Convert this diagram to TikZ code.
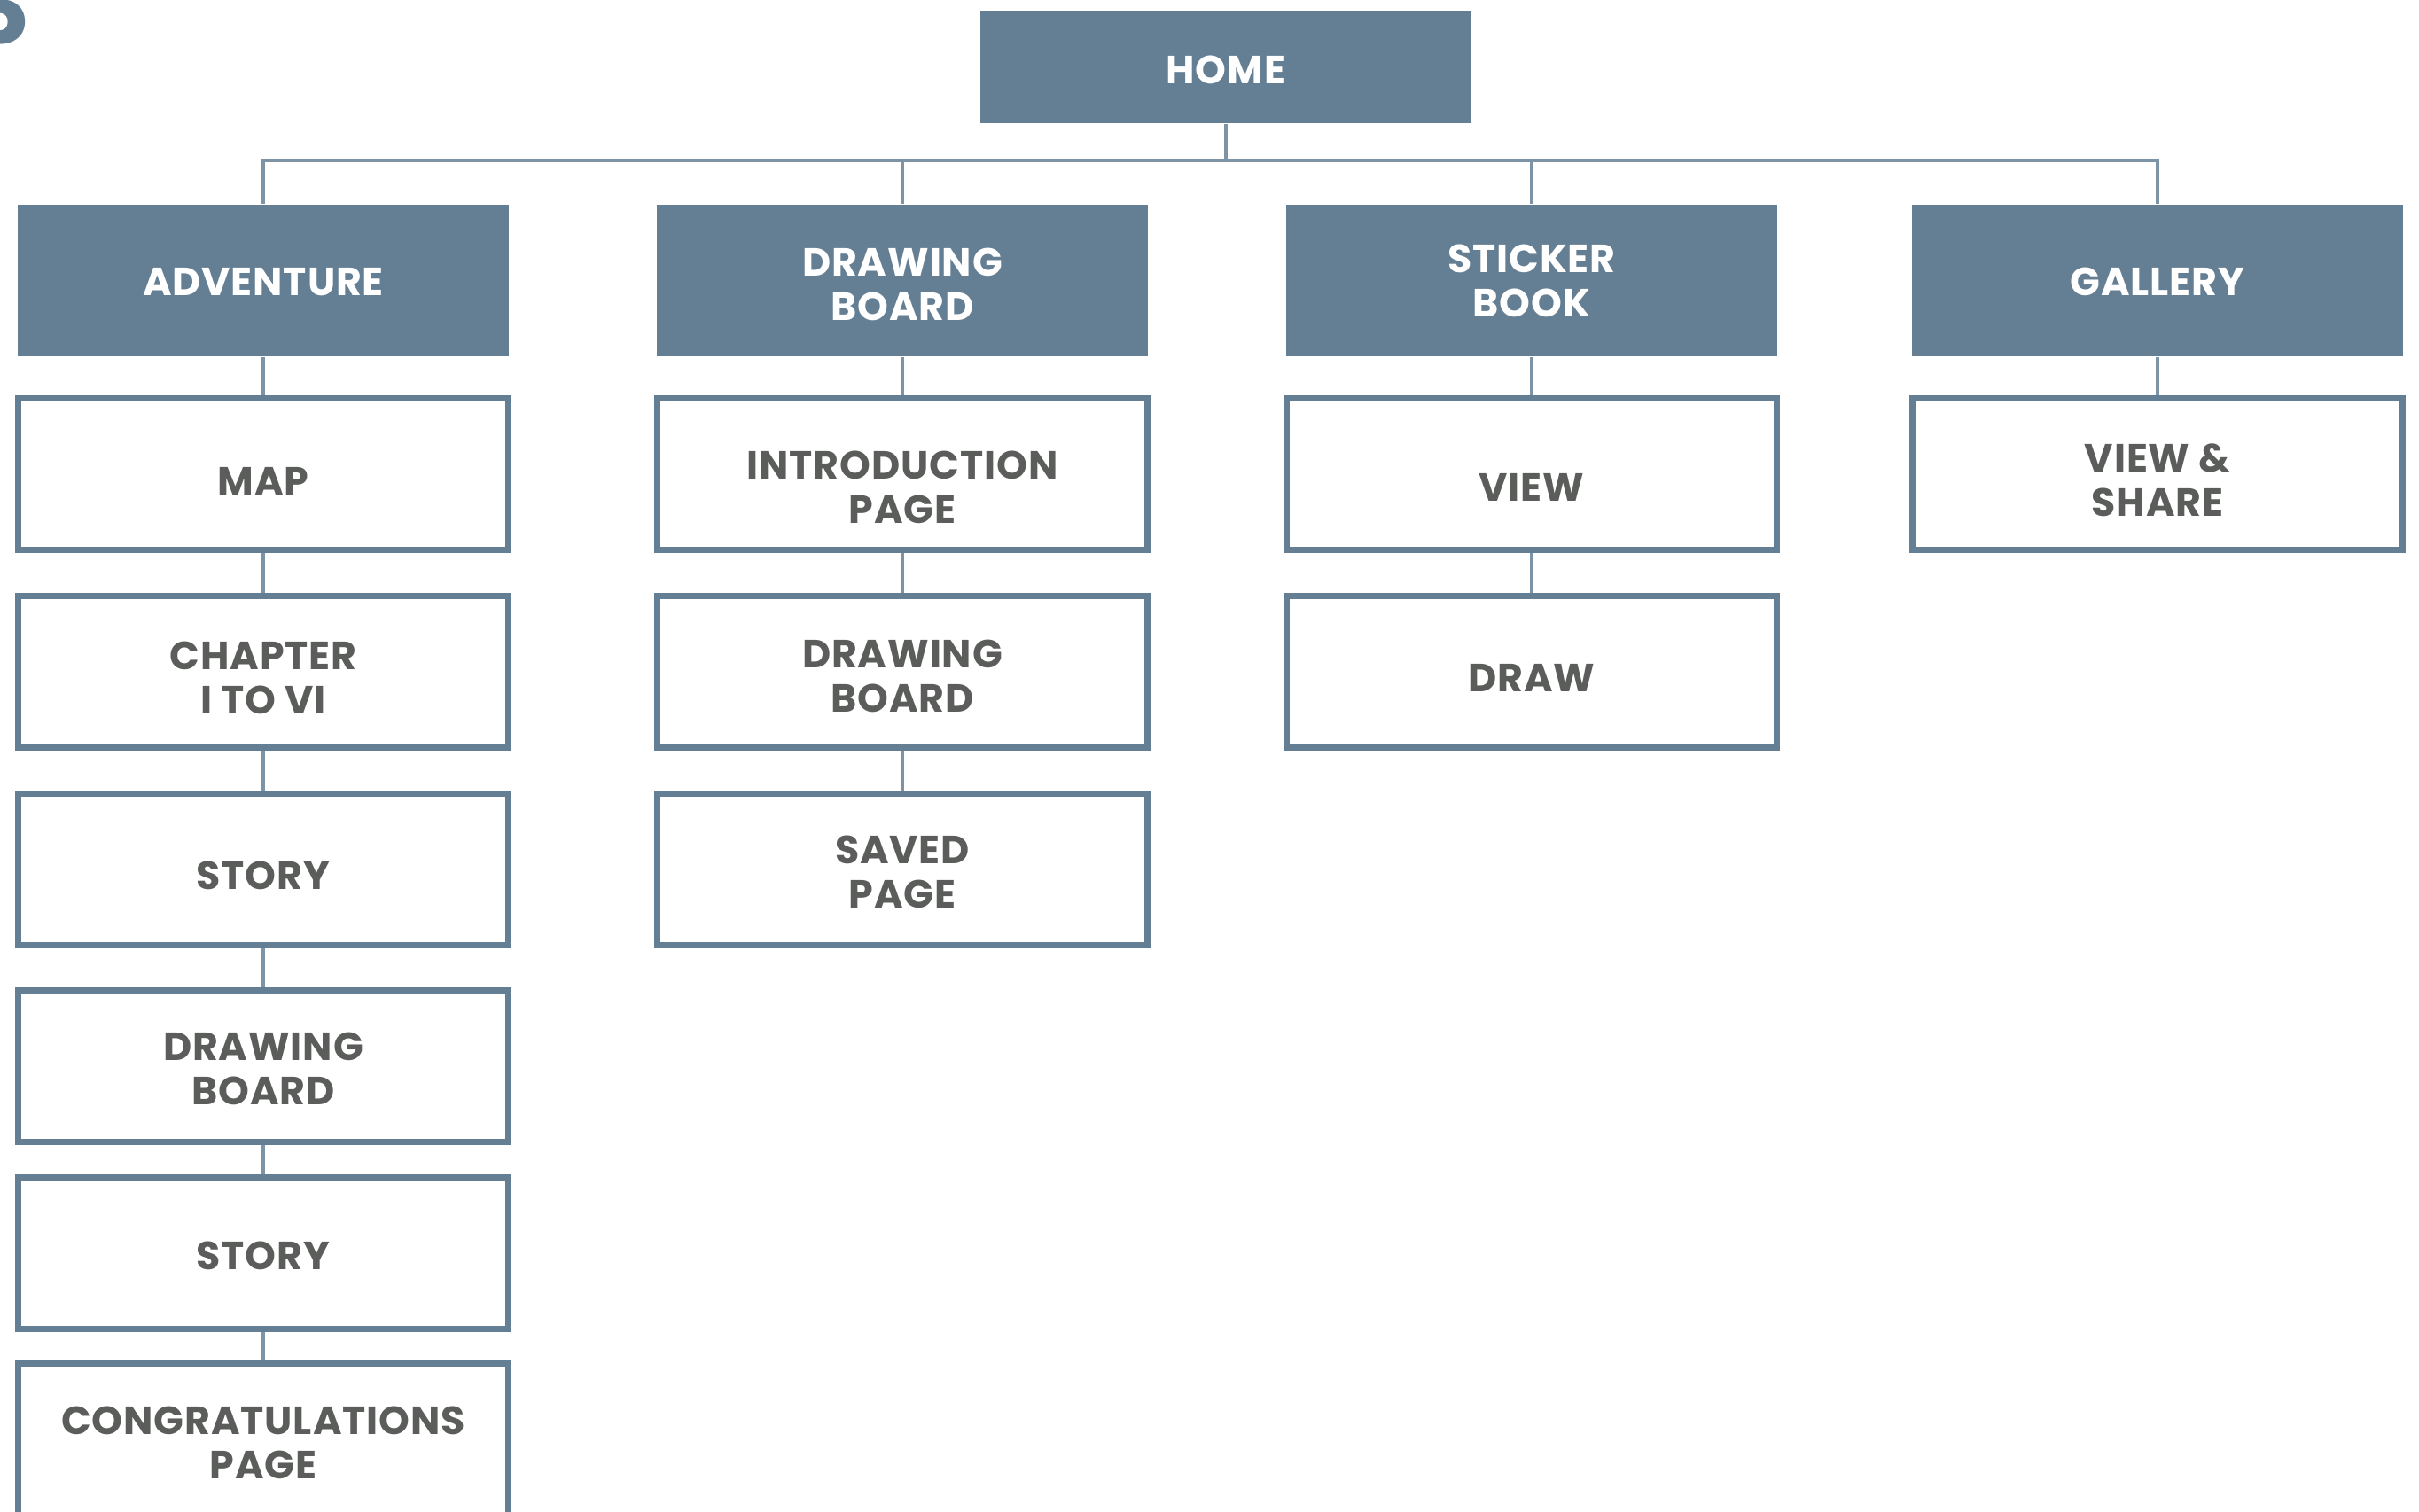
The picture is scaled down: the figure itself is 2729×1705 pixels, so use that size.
\documentclass[tikz,border=0pt]{standalone}
\usepackage{fontspec}
\setmainfont{Poppins}[LetterSpace=2]
\definecolor{slate}{HTML}{647E93}
\definecolor{wire}{HTML}{7D93A6}
\definecolor{labelgray}{HTML}{5B5D5B}
% invisible strut that lowers a caption inside its box
\newcommand\capstrut[1]{\rule{0pt}{#1cm}}
\tikzset{
  headbox/.style={rectangle, fill=slate, text=white, inner sep=0pt,
    minimum width=5.54cm, minimum height=1.71cm, align=center,
    font=\fontsize{12.6}{14.2}\selectfont\bfseries},
  pagebox/.style={rectangle, draw=slate, fill=white, line width=0.07cm,
    text=labelgray, inner sep=0pt, minimum width=5.52cm, minimum height=1.70cm,
    align=center, font=\fontsize{12.6}{14.2}\selectfont\bfseries},
  link/.style={draw=wire, line width=0.045cm}
}
\begin{document}
\begin{tikzpicture}[x=0.01cm, y=-0.01cm]
\useasboundingbox (0,0) rectangle (2729,1705);
% fragment of a heading that runs off the left edge
\node[anchor=base west, inner sep=0pt, text=slate,
  font=\fontsize{32}{32}\selectfont\bfseries] (heading) at (-39,78) {P};

% root and first level
\node[headbox, minimum height=1.27cm] (home) at (1383,75.5) {\capstrut{0.38}HOME};
\coordinate (bus) at (1383,181);

\node[headbox] (adv) at (297,316.5) {\capstrut{0.35}ADVENTURE};
\node[headbox] (dbd) at (1018,316.5) {\capstrut{0.41}DRAWING\\BOARD};
\node[headbox] (stk) at (1728,316.5) {STICKER\\BOOK};
\node[headbox] (gal) at (2434,316.5) {\capstrut{0.35}GALLERY};

% adventure pages
\node[pagebox] (map)   at (297,535)  {\capstrut{0.47}MAP};
\node[pagebox] (chap)  at (297,758)  {\capstrut{0.45}CHAPTER\\I TO VI};
\node[pagebox] (sty1)  at (297,981)  {\capstrut{0.45}STORY};
\node[pagebox] (adb)   at (297,1203) {\capstrut{0.38}DRAWING\\BOARD};
\node[pagebox] (sty2)  at (297,1414) {\capstrut{0.38}STORY};
\node[pagebox] (cong)  at (297,1624) {\capstrut{0.39}CONGRATULATIONS\\PAGE};

% drawing board pages
\node[pagebox] (intro) at (1018,535) {\capstrut{0.61}INTRODUCTION\\PAGE};
\node[pagebox] (board) at (1018,758) {\capstrut{0.41}DRAWING\\BOARD};
\node[pagebox] (saved) at (1018,981) {\capstrut{0.37}SAVED\\PAGE};

% sticker book pages
\node[pagebox] (view)  at (1728,535) {\capstrut{0.61}VIEW};
\node[pagebox] (draw)  at (1728,758) {\capstrut{0.45}DRAW};

% gallery pages
\node[pagebox] (share) at (2434,535) {\capstrut{0.45}VIEW \&\\SHARE};

% connectors
\draw[link] (home.south) -- (home.south |- bus);
\draw[link] (adv.north) -- (adv.north |- bus) -- (gal.north |- bus) -- (gal.north);
\draw[link] (dbd.north) -- (dbd.north |- bus);
\draw[link] (stk.north) -- (stk.north |- bus);
\draw[link] (adv) -- (map);
\draw[link] (map) -- (chap);
\draw[link] (chap) -- (sty1);
\draw[link] (sty1) -- (adb);
\draw[link] (adb) -- (sty2);
\draw[link] (sty2) -- (cong);
\draw[link] (dbd) -- (intro);
\draw[link] (intro) -- (board);
\draw[link] (board) -- (saved);
\draw[link] (stk) -- (view);
\draw[link] (view) -- (draw);
\draw[link] (gal) -- (share);
\end{tikzpicture}
\end{document}
